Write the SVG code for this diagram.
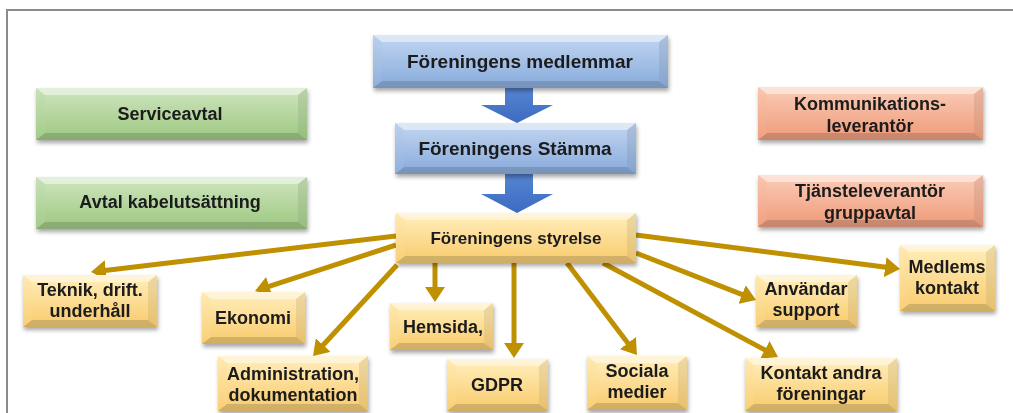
<svg xmlns="http://www.w3.org/2000/svg" width="1013" height="413" viewBox="0 0 1013 413">
<defs>
<style>
.t{font-family:"Liberation Sans",Arial,sans-serif;font-weight:bold;font-size:18px;fill:#1a1a1a;text-anchor:middle}
.big{font-size:19px}
.mid{font-size:17px}
.hl{fill:#fff;opacity:.5}
.sh{fill:#000;opacity:.16}
.rs{fill:#000;opacity:.07}
.blue{fill:url(#gBlue)}
.green{fill:url(#gGreen)}
.sal{fill:url(#gSal)}
.gold{fill:url(#gGold)}
.box{filter:url(#ds)}
.con{stroke:#BF9000;stroke-width:5;fill:none;marker-end:url(#ah)}
</style>
<linearGradient id="gBlue" x1="0" y1="0" x2="0" y2="1"><stop offset="0" stop-color="#BBD0EE"/><stop offset="1" stop-color="#8EB0DE"/></linearGradient>
<linearGradient id="gGreen" x1="0" y1="0" x2="0" y2="1"><stop offset="0" stop-color="#C8E1B7"/><stop offset="1" stop-color="#A3CC88"/></linearGradient>
<linearGradient id="gSal" x1="0" y1="0" x2="0" y2="1"><stop offset="0" stop-color="#F9C6B0"/><stop offset="1" stop-color="#F0A080"/></linearGradient>
<linearGradient id="gGold" x1="0" y1="0" x2="0" y2="1"><stop offset="0" stop-color="#FFEAB2"/><stop offset="1" stop-color="#F9CF76"/></linearGradient>
<linearGradient id="gArrow" x1="0" y1="0" x2="0" y2="1"><stop offset="0" stop-color="#5585D3"/><stop offset="1" stop-color="#3C6BC0"/></linearGradient>
<filter id="ds" x="-10%" y="-20%" width="130%" height="150%"><feDropShadow dx="1" dy="3" stdDeviation="2" flood-color="#000" flood-opacity=".35"/></filter>
<marker id="ah" markerUnits="userSpaceOnUse" markerWidth="16" markerHeight="20" refX="1" refY="10" orient="auto"><path d="M0,0 L15,10 L0,20 z" fill="#BF9000"/></marker>
</defs>
<rect x="7" y="10" width="1010" height="410" fill="#fff" stroke="#8c8c8c" stroke-width="2"/>

<g id="connectors">
<polygon points="505,88 533,88 533,105 553,105 517,123 481,105 505,105" fill="url(#gArrow)"/>
<polygon points="505,174 533,174 533,194 553,194 517,213 481,194 505,194" fill="url(#gArrow)"/>
<line class="con" x1="396" y1="236" x2="104.9" y2="270.4"/>
<line class="con" x1="396" y1="245" x2="268.3" y2="286.7"/>
<line class="con" x1="397" y1="265" x2="322.5" y2="345.8"/>
<line class="con" x1="435" y1="263" x2="435" y2="288"/>
<line class="con" x1="514" y1="263" x2="514" y2="344"/>
<line class="con" x1="567" y1="263" x2="628.5" y2="343.9"/>
<line class="con" x1="603" y1="263" x2="765.7" y2="350.4"/>
<line class="con" x1="636" y1="253" x2="743" y2="294.9"/>
<line class="con" x1="636" y1="235" x2="886.1" y2="267.2"/>
</g>

<g id="medlemmar" class="box">
<rect class="blue" x="373" y="35" width="295" height="53"/>
<polygon class="hl" points="373,35 668,35 659,42 382,42"/>
<polygon class="sh" points="373,88 668,88 659,81 382,81"/>
<polygon class="rs" points="668,35 668,88 659,81 659,42"/>
<rect class="blue" x="382" y="42" width="277" height="39"/>
<text class="t big" x="520" y="68">Föreningens medlemmar</text>
</g>

<g id="stamma" class="box">
<rect class="blue" x="395" y="123" width="241" height="51"/>
<polygon class="hl" points="395,123 636,123 627,130 404,130"/>
<polygon class="sh" points="395,174 636,174 627,167 404,167"/>
<polygon class="rs" points="636,123 636,174 627,167 627,130"/>
<rect class="blue" x="404" y="130" width="223" height="37"/>
<text class="t big" x="515" y="155">Föreningens Stämma</text>
</g>

<g id="styrelse" class="box">
<rect class="gold" x="396" y="213" width="240" height="50"/>
<polygon class="hl" points="396,213 636,213 627,220 405,220"/>
<polygon class="sh" points="396,263 636,263 627,256 405,256"/>
<polygon class="rs" points="636,213 636,263 627,256 627,220"/>
<rect class="gold" x="405" y="220" width="222" height="36"/>
<text class="t mid" x="516" y="244">Föreningens styrelse</text>
</g>

<g id="serviceavtal" class="box">
<rect class="green" x="36" y="88" width="271" height="52"/>
<polygon class="hl" points="36,88 307,88 298,95 45,95"/>
<polygon class="sh" points="36,140 307,140 298,133 45,133"/>
<polygon class="rs" points="307,88 307,140 298,133 298,95"/>
<rect class="green" x="45" y="95" width="253" height="38"/>
<text class="t" x="170" y="120">Serviceavtal</text>
</g>

<g id="kabelutsattning" class="box">
<rect class="green" x="36" y="177" width="271" height="52"/>
<polygon class="hl" points="36,177 307,177 298,184 45,184"/>
<polygon class="sh" points="36,229 307,229 298,222 45,222"/>
<polygon class="rs" points="307,177 307,229 298,222 298,184"/>
<rect class="green" x="45" y="184" width="253" height="38"/>
<text class="t" x="170" y="208">Avtal kabelutsättning</text>
</g>

<g id="kommunikation" class="box">
<rect class="sal" x="758" y="87" width="225" height="53"/>
<polygon class="hl" points="758,87 983,87 974,94 767,94"/>
<polygon class="sh" points="758,140 983,140 974,133 767,133"/>
<polygon class="rs" points="983,87 983,140 974,133 974,94"/>
<rect class="sal" x="767" y="94" width="207" height="39"/>
<text class="t" x="870" y="110">Kommunikations-</text>
<text class="t" x="870" y="132">leverantör</text>
</g>

<g id="tjansteleverantor" class="box">
<rect class="sal" x="758" y="175" width="225" height="52"/>
<polygon class="hl" points="758,175 983,175 974,182 767,182"/>
<polygon class="sh" points="758,227 983,227 974,220 767,220"/>
<polygon class="rs" points="983,175 983,227 974,220 974,182"/>
<rect class="sal" x="767" y="182" width="207" height="38"/>
<text class="t" x="870" y="197">Tjänsteleverantör</text>
<text class="t" x="870" y="219">gruppavtal</text>
</g>

<g id="teknik" class="box">
<rect class="gold" x="23" y="275" width="134" height="52"/>
<polygon class="hl" points="23,275 157,275 148,282 32,282"/>
<polygon class="sh" points="23,327 157,327 148,320 32,320"/>
<polygon class="rs" points="157,275 157,327 148,320 148,282"/>
<rect class="gold" x="32" y="282" width="116" height="38"/>
<text class="t" x="90" y="296">Teknik, drift.</text>
<text class="t" x="90" y="317">underhåll</text>
</g>

<g id="ekonomi" class="box">
<rect class="gold" x="202" y="292" width="103" height="52"/>
<polygon class="hl" points="202,292 305,292 296,299 211,299"/>
<polygon class="sh" points="202,344 305,344 296,337 211,337"/>
<polygon class="rs" points="305,292 305,344 296,337 296,299"/>
<rect class="gold" x="211" y="299" width="85" height="38"/>
<text class="t" x="253" y="324">Ekonomi</text>
</g>

<g id="administration" class="box">
<rect class="gold" x="218" y="356" width="150" height="55"/>
<polygon class="hl" points="218,356 368,356 359,363 227,363"/>
<polygon class="sh" points="218,411 368,411 359,404 227,404"/>
<polygon class="rs" points="368,356 368,411 359,404 359,363"/>
<rect class="gold" x="227" y="363" width="132" height="41"/>
<text class="t" x="293" y="380">Administration,</text>
<text class="t" x="293" y="401">dokumentation</text>
</g>

<g id="hemsida" class="box">
<rect class="gold" x="390" y="303" width="103" height="47"/>
<polygon class="hl" points="390,303 493,303 484,310 399,310"/>
<polygon class="sh" points="390,350 493,350 484,343 399,343"/>
<polygon class="rs" points="493,303 493,350 484,343 484,310"/>
<rect class="gold" x="399" y="310" width="85" height="33"/>
<text class="t" x="443" y="333">Hemsida,</text>
</g>

<g id="gdpr" class="box">
<rect class="gold" x="447" y="359" width="101" height="52"/>
<polygon class="hl" points="447,359 548,359 539,366 456,366"/>
<polygon class="sh" points="447,411 548,411 539,404 456,404"/>
<polygon class="rs" points="548,359 548,411 539,404 539,366"/>
<rect class="gold" x="456" y="366" width="83" height="38"/>
<text class="t" x="497" y="391">GDPR</text>
</g>

<g id="sociala" class="box">
<rect class="gold" x="587" y="356" width="100" height="54"/>
<polygon class="hl" points="587,356 687,356 678,363 596,363"/>
<polygon class="sh" points="587,410 687,410 678,403 596,403"/>
<polygon class="rs" points="687,356 687,410 678,403 678,363"/>
<rect class="gold" x="596" y="363" width="82" height="40"/>
<text class="t" x="637" y="377">Sociala</text>
<text class="t" x="637" y="398">medier</text>
</g>

<g id="kontakt" class="box">
<rect class="gold" x="745" y="358" width="152" height="53"/>
<polygon class="hl" points="745,358 897,358 888,365 754,365"/>
<polygon class="sh" points="745,411 897,411 888,404 754,404"/>
<polygon class="rs" points="897,358 897,411 888,404 888,365"/>
<rect class="gold" x="754" y="365" width="134" height="39"/>
<text class="t" x="821" y="379">Kontakt andra</text>
<text class="t" x="821" y="400">föreningar</text>
</g>

<g id="anvandar" class="box">
<rect class="gold" x="756" y="275" width="101" height="52"/>
<polygon class="hl" points="756,275 857,275 848,282 765,282"/>
<polygon class="sh" points="756,327 857,327 848,320 765,320"/>
<polygon class="rs" points="857,275 857,327 848,320 848,282"/>
<rect class="gold" x="765" y="282" width="83" height="38"/>
<text class="t" x="806" y="295">Användar</text>
<text class="t" x="806" y="316">support</text>
</g>

<g id="medlems" class="box">
<rect class="gold" x="900" y="245" width="95" height="66"/>
<polygon class="hl" points="900,245 995,245 986,252 909,252"/>
<polygon class="sh" points="900,311 995,311 986,304 909,304"/>
<polygon class="rs" points="995,245 995,311 986,304 986,252"/>
<rect class="gold" x="909" y="252" width="77" height="52"/>
<text class="t" x="947" y="273">Medlems</text>
<text class="t" x="947" y="294">kontakt</text>
</g>
</svg>
